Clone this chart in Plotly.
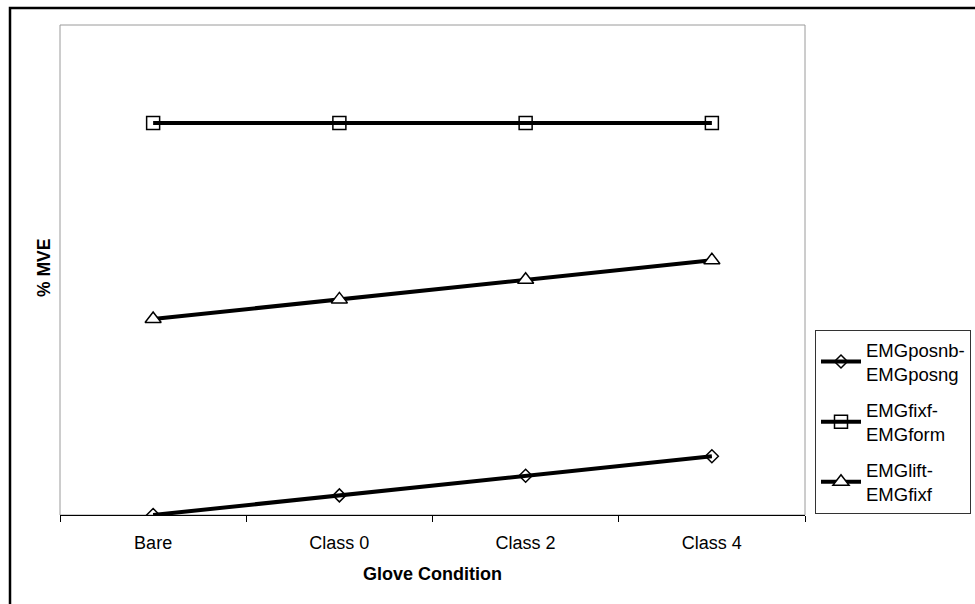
import plotly.graph_objects as go

categories = ["Bare", "Class 0", "Class 2", "Class 4"]
posnb_posng = [0, 1, 2, 3]
fixf_form = [20, 20, 20, 20]
lift_fixf = [10, 11, 12, 13]

series_names = ["EMGposnb-<br>EMGposng", "EMGfixf-<br>EMGform", "EMGlift-<br>EMGfixf"]

FONT = "Liberation Sans, Arial, sans-serif"

W, H = 975, 604
L, R, T, B = 60, 805, 25, 515
pw, ph = R - L, B - T

def px(x):
    return (x - L) / pw

def py(y):
    return (B - y) / ph

fig = go.Figure()
fig.add_trace(go.Scatter(
    x=categories, y=posnb_posng, name=series_names[0], mode="lines+markers",
    line=dict(color="black", width=4), legendgroup="a",
    marker=dict(symbol="diamond-open", size=10, color="black", line=dict(color="black", width=1.5)),
))
fig.add_trace(go.Scatter(
    x=categories, y=fixf_form, name=series_names[1], mode="lines+markers",
    line=dict(color="black", width=4), legendgroup="b",
    marker=dict(symbol="square-open", size=13, color="black", line=dict(color="black", width=1.5)),
))
fig.add_trace(go.Scatter(
    x=categories, y=lift_fixf, name=series_names[2], mode="lines+markers",
    line=dict(color="black", width=4), legendgroup="c",
    marker=dict(symbol="triangle-up", size=14, color="white", line=dict(color="black", width=1.5)),
))

fig.update_layout(
    width=W, height=H,
    margin=dict(l=L, r=W - R, t=T, b=H - B, pad=0, autoexpand=False),
    paper_bgcolor="white", plot_bgcolor="white",
    font=dict(family=FONT, size=18, color="black"),
    showlegend=True,
    legend=dict(
        x=px(815), y=py(330), xanchor="left", yanchor="top",
        bordercolor="#333333", borderwidth=1, bgcolor="white",
        font=dict(family=FONT, size=18.5, color="black"),
        tracegroupgap=9, traceorder="grouped", itemwidth=40,
    ),
    xaxis=dict(
        type="category", range=[-0.5, 3.5], tickson="boundaries",
        showline=True, linecolor="black", linewidth=1,
        ticks="outside", ticklen=6, tickcolor="black", tickwidth=1,
        showgrid=False, zeroline=False, ticklabelstandoff=11,
        tickfont=dict(family=FONT, size=18, color="black"),
    ),
    yaxis=dict(
        range=[0, 25], showline=False, showticklabels=False, ticks="",
        showgrid=False, zeroline=False,
    ),
    shapes=[
        dict(type="rect", xref="paper", yref="paper", x0=0, x1=1, y0=0, y1=1,
             line=dict(color="#9a9a9a", width=1), layer="below"),
        dict(type="rect", xref="paper", yref="paper",
             x0=px(10), x1=px(1000), y0=py(640), y1=py(8),
             line=dict(color="black", width=2.5)),
    ],
    annotations=[
        dict(text="<b>Glove Condition</b>", xref="paper", yref="paper",
             x=px(432), y=py(574), xanchor="center", yanchor="middle",
             showarrow=False, font=dict(family=FONT, size=18, color="black")),
        dict(text="<b>% MVE</b>", xref="paper", yref="paper",
             x=px(44), y=py(268), xanchor="center", yanchor="middle",
             textangle=-90, showarrow=False,
             font=dict(family=FONT, size=17.5, color="black")),
    ],
)

fig.write_html("out.html")
